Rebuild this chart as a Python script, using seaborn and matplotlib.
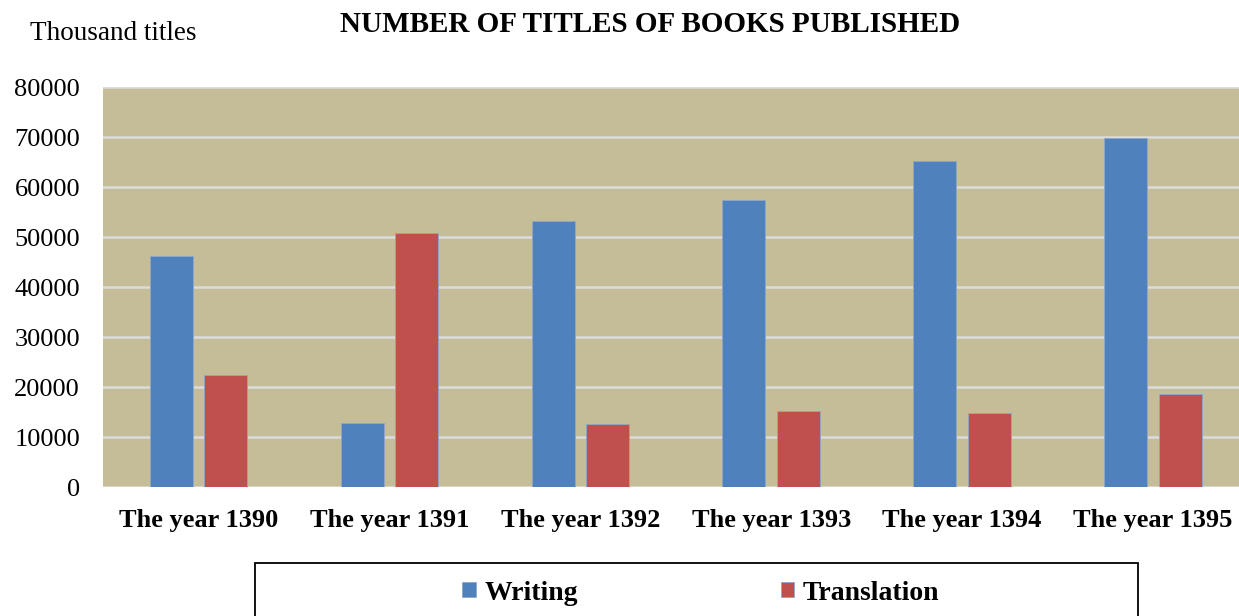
import pandas as pd
import seaborn as sns
import matplotlib.pyplot as plt
from matplotlib.patches import Rectangle

# values
years = ["The year 1390", "The year 1391", "The year 1392",
         "The year 1393", "The year 1394", "The year 1395"]
writing = [46200, 12900, 53200, 57400, 65300, 69800]
translation = [22400, 50800, 12600, 15200, 14900, 18600]
series_names = ["Writing", "Translation"]
y_ticks = [0, 10000, 20000, 30000, 40000, 50000, 60000, 70000, 80000]

df = pd.DataFrame({
    "year": years * 2,
    "titles": writing + translation,
    "type": [series_names[0]] * len(years) + [series_names[1]] * len(years),
})

sns.set_theme(style="white")
plt.rcParams['font.family'] = ['Liberation Serif', 'DejaVu Serif']
plt.rcParams['text.color'] = 'black'
plt.rcParams['xtick.color'] = 'black'
plt.rcParams['ytick.color'] = 'black'

fig = plt.figure(figsize=(12.39, 6.16), dpi=100)
# plot area runs a little past the right edge of the picture
ax = fig.add_axes([103 / 1239, 1 - 487 / 616, 1145.5 / 1239, 400 / 616])
ax.set_facecolor("#C4BD97")

sns.barplot(data=df, x="year", y="titles", hue="type",
            palette=["#4F81BD", "#C0504D"], width=0.571, gap=0.212,
            saturation=1, edgecolor="#8FA8C8", linewidth=0.6, ax=ax)

ax.set_ylim(0, 80000)
ax.set_yticks(y_ticks)
ax.yaxis.grid(True, color="#DCDCDC", linewidth=1.8)
ax.set_axisbelow(True)
for s in ax.spines.values():
    s.set_visible(False)
ax.tick_params(axis="both", length=0, colors="black")
ax.tick_params(axis="y", labelsize=19, pad=16.5)
ax.tick_params(axis="x", labelsize=19, pad=16)
for lab in ax.get_xticklabels():
    lab.set_fontweight("bold")
ax.set_xlabel("")
ax.set_ylabel("")

handles, labels = ax.get_legend_handles_labels()
ax.legend_.remove()

fig.text(650 / 1239, 1 - 24 / 616, "NUMBER OF TITLES OF BOOKS PUBLISHED",
         ha="center", va="center", fontsize=21, fontweight="bold")
fig.text(30 / 1239, 1 - 33 / 616, "Thousand titles",
         ha="left", va="center", fontsize=19.5)

fig.legend(handles, labels, loc="center", ncol=2,
           bbox_to_anchor=(701 / 1239, 1 - 593 / 616),
           frameon=False, handlelength=0.48, handleheight=0.48,
           handletextpad=0.32, columnspacing=7.3,
           prop={"size": 20, "weight": "bold"})
fig.add_artist(Rectangle((255 / 1239, -10 / 616), 883 / 1239, 63 / 616,
                         transform=fig.transFigure, fill=False,
                         edgecolor="black", linewidth=1.3))

plt.savefig("out.png", dpi=100)
